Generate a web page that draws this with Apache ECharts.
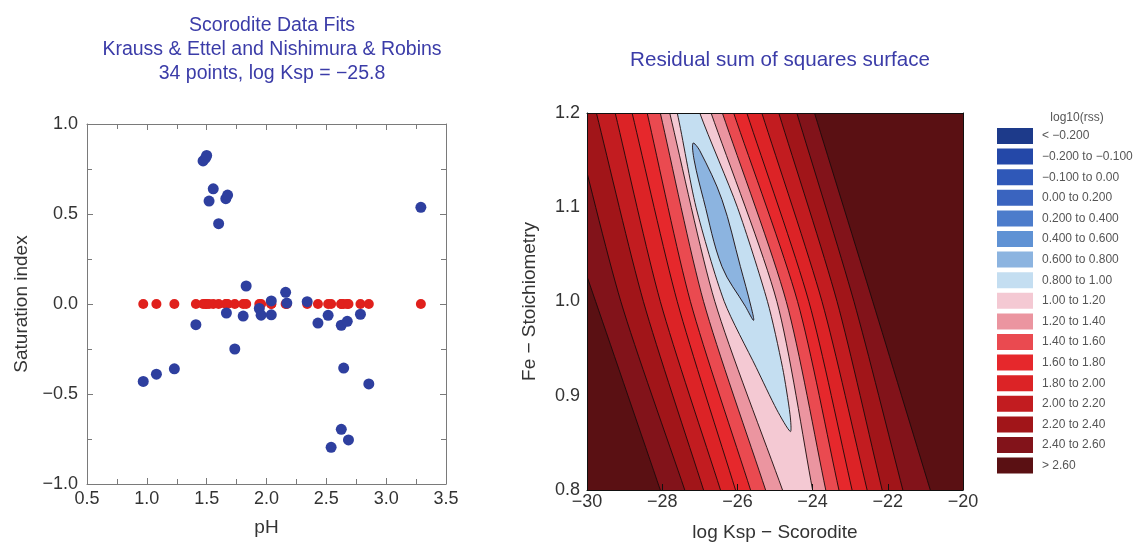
<!DOCTYPE html>
<html>
<head>
<meta charset="utf-8">
<script src="https://cdn.jsdelivr.net/npm/echarts@6/dist/echarts.min.js"></script>
<style>
  html, body { margin: 0; padding: 0; background: #ffffff; }
  #chart { width: 1146px; height: 547px; }
</style>
</head>
<body>
<div id="chart"></div>
<script>
// ---- Scorodite saturation index per sample (pH, observed SI, fitted SI) ----
const phValues = [0.97, 1.08, 1.23, 1.41, 1.47, 1.49, 1.50, 1.52, 1.555, 1.60,
                  1.66, 1.675, 1.665, 1.735, 1.805, 1.83, 1.94, 1.955, 2.04, 2.04,
                  2.16, 2.17, 2.34, 2.43, 2.515, 2.625, 2.675, 2.645, 2.785, 2.855,
                  2.54, 2.625, 2.685, 3.29];
const siObserved = [-0.43, -0.39, -0.36, -0.115, 0.795, 0.81, 0.825, 0.572, 0.64, 0.446,
                    0.585, 0.605, -0.05, -0.25, -0.067, 0.10, -0.025, -0.062, 0.017, -0.06,
                    0.065, 0.005, 0.013, -0.106, -0.063, -0.118, -0.096, -0.356, -0.057, -0.444,
                    -0.796, -0.696, -0.755, 0.537];
const siFitted = [0, 0, 0, 0, 0, 0, 0, 0, 0, 0,
                  0, 0, 0, 0, 0, 0, 0, 0, 0, 0,
                  0, 0, 0, 0, 0, 0, 0, 0, 0, 0,
                  0, 0, 0, 0];

// ---- log10(rss) contours over (log Ksp, Fe stoichiometry) ----
// Each contour is traced at these Fe stoichiometry stations.
const contourStations = [1.2, 1.0, 0.8];
// Contour levels (region below each level), outermost first.
const contourLevels = [2.6, 2.4, 2.2, 2.0, 1.8, 1.6, 1.4, 1.2];
// log Ksp of the left and right branch of each contour at each station.
const contourLeftX = [
  [-31.5, -29.77, -28.05],
  [-30.4, -29.1, -27.4],
  [-29.75, -28.5, -26.9],
  [-29.25, -28.05, -26.45],
  [-28.8, -27.6, -26.05],
  [-28.4, -27.25, -25.65],
  [-28.05, -26.9, -25.25],
  [-27.8, -26.6, -24.8]
];
const contourRightX = [
  [-23.95, -22.4, -20.87],
  [-24.42, -22.9, -21.6],
  [-24.9, -23.35, -22.15],
  [-25.35, -23.75, -22.55],
  [-25.75, -24.1, -22.95],
  [-26.1, -24.4, -23.3],
  [-26.4, -24.7, -23.65],
  [-26.7, -24.95, -24.0]
];
// Closed valley contours: log10(rss) = 1.0 and 0.8
const valleyOuterLevel = 1.0;
const valleyOuter = [
  [-27.95, 1.25], [-27.6, 1.2], [-27.1, 1.1], [-26.35, 1.0], [-25.5, 0.93],
  [-24.95, 0.885], [-24.59, 0.862], [-24.6, 0.88], [-24.8, 0.93], [-25.2, 1.0],
  [-26.0, 1.1], [-27.0, 1.2], [-27.35, 1.25]
];
const valleyInnerLevel = 0.8;
const valleyInner = [
  [-27.18, 1.168], [-27.0, 1.16], [-26.41, 1.108], [-25.92, 1.037], [-25.64, 0.995],
  [-25.57, 0.98], [-25.79, 0.995], [-26.41, 1.037], [-26.9, 1.108], [-27.15, 1.15]
];

// ---- Legend classes for log10(rss) ----
const legendBreaks = [-0.2, -0.1, 0.0, 0.2, 0.4, 0.6, 0.8, 1.0, 1.2, 1.4, 1.6, 1.8, 2.0, 2.2, 2.4, 2.6];
const legendLabels = ['< \u22120.200', '\u22120.200 to \u22120.100', '\u22120.100 to 0.00', '0.00 to 0.200',
  '0.200 to 0.400', '0.400 to 0.600', '0.600 to 0.800', '0.800 to 1.00', '1.00 to 1.20',
  '1.20 to 1.40', '1.40 to 1.60', '1.60 to 1.80', '1.80 to 2.00', '2.00 to 2.20',
  '2.20 to 2.40', '2.40 to 2.60', '> 2.60'];
const legendColors = ['#1d3a8a', '#2448a8', '#2f58b8', '#3a64bf', '#4c7ccb', '#5f92d4', '#8cb4e0',
  '#c4def1', '#f4c9d3', '#eb95a0', '#ea4a50', '#e6282c', '#dc2326', '#c21c20',
  '#a11519', '#82131a', '#5a1013'];

// ---------------------------------------------------------------------------
const FONT = '"Liberation Sans", Arial, sans-serif';
const TITLE_BLUE = '#3b3ca8';
const minus = v => String(v).replace('-', '\u2212');

// band value drawn inside each contour (middle of the class just below its level)
const bandOf = level => +(level - 0.1).toFixed(2);

// polygon between the left and right branch of one contour, extended past the frame
function stripPolygon(lx, rx) {
  const ys = contourStations;
  const ext = (a, b) => a + (a - b) * 0.6;
  const pts = [];
  pts.push([ext(lx[0], lx[1]), ys[0] + 0.12]);
  lx.forEach((x, i) => pts.push([x, ys[i]]));
  pts.push([ext(lx[2], lx[1]), ys[2] - 0.12]);
  pts.push([ext(rx[2], rx[1]), ys[2] - 0.12]);
  for (let i = rx.length - 1; i >= 0; i--) pts.push([rx[i], ys[i]]);
  pts.push([ext(rx[0], rx[1]), ys[0] + 0.12]);
  return pts;
}

const contourShapes = [];
const contourData = [];
// whole surface above the highest level
contourShapes.push({ pts: [[-31, 0.7], [-19, 0.7], [-19, 1.3], [-31, 1.3]], smooth: 0 });
contourData.push({ value: [-25, 1.0, 2.7] });
contourLevels.forEach((lv, i) => {
  contourShapes.push({ pts: stripPolygon(contourLeftX[i], contourRightX[i]), smooth: 0.25 });
  contourData.push({ value: [-25, 1.0, bandOf(lv)] });
});
contourShapes.push({ pts: valleyOuter, smooth: 0.25 });
contourData.push({ value: [-25.5, 1.0, bandOf(valleyOuterLevel)] });
contourShapes.push({ pts: valleyInner, smooth: 0.35 });
contourData.push({ value: [-26.4, 1.07, bandOf(valleyInnerLevel)] });

const pieces = legendLabels.map((label, i) => {
  const p = { label: label, color: legendColors[i] };
  if (i > 0) p.gte = legendBreaks[i - 1];
  if (i < legendBreaks.length) p.lt = legendBreaks[i];
  return p;
});

const chart = echarts.init(document.getElementById('chart'), null, { renderer: 'canvas' });

const axisText = { fontFamily: FONT, fontSize: 18, color: '#333333' };
const nameText = { fontFamily: FONT, fontSize: 19, color: '#333333' };
const greyLine = { onZero: false, lineStyle: { color: '#7a7a7a', width: 1 } };
const blackLine = { onZero: false, lineStyle: { color: '#111111', width: 1 } };
const greyTick = { inside: true, length: 6, lineStyle: { color: '#7a7a7a' } };
const greyMinor = { show: true, splitNumber: 2, length: 5, lineStyle: { color: '#7a7a7a' } };

const option = {
  animation: false,
  backgroundColor: '#ffffff',
  textStyle: { fontFamily: FONT },
  title: [
    {
      text: 'Scorodite Data Fits\nKrauss & Ettel and Nishimura & Robins\n34 points, log Ksp = \u221225.8',
      left: 267, top: 9, textAlign: 'center',
      textStyle: { fontFamily: FONT, fontSize: 19.5, fontWeight: 'normal', color: TITLE_BLUE, lineHeight: 24 }
    },
    {
      text: 'Residual sum of squares surface',
      left: 775, top: 45, textAlign: 'center',
      textStyle: { fontFamily: FONT, fontSize: 20.6, fontWeight: 'normal', color: TITLE_BLUE }
    },
    {
      text: 'log10(rss)',
      left: 1072, top: 107, textAlign: 'center',
      textStyle: { fontFamily: FONT, fontSize: 12, fontWeight: 'normal', color: '#555555' }
    }
  ],
  grid: [
    { left: 87, top: 124, width: 359, height: 360, show: false },
    { left: 587, top: 113, width: 376, height: 377, show: false }
  ],
  xAxis: [
    {
      gridIndex: 0, type: 'value', min: 0.5, max: 3.5, interval: 0.5, position: 'bottom',
      name: 'pH', nameLocation: 'middle', nameGap: 34, nameTextStyle: nameText,
      axisLine: greyLine, axisTick: greyTick, minorTick: greyMinor,
      axisLabel: Object.assign({ margin: 6, formatter: v => v.toFixed(1) }, axisText),
      splitLine: { show: false }
    },
    {
      gridIndex: 0, type: 'value', min: 0.5, max: 3.5, interval: 0.5, position: 'top',
      axisLine: greyLine, axisTick: greyTick, minorTick: greyMinor,
      axisLabel: { show: false }, splitLine: { show: false }
    },
    {
      gridIndex: 1, type: 'value', min: -30, max: -20, interval: 2, position: 'bottom', z: 10,
      name: 'log Ksp \u2212 Scorodite', nameLocation: 'middle', nameGap: 33, nameTextStyle: nameText,
      axisLine: blackLine,
      axisTick: { inside: true, length: 6, lineStyle: { color: '#111111' } },
      axisLabel: Object.assign({ margin: 3, formatter: v => minus(v) }, axisText),
      splitLine: { show: false }
    },
    {
      gridIndex: 1, type: 'value', min: -30, max: -20, interval: 2, position: 'top', z: 10,
      axisLine: blackLine, axisTick: { show: false }, axisLabel: { show: false }, splitLine: { show: false }
    }
  ],
  yAxis: [
    {
      gridIndex: 0, type: 'value', min: -1, max: 1, interval: 0.5, position: 'left',
      name: 'Saturation index', nameLocation: 'middle', nameGap: 56, nameTextStyle: nameText,
      axisLine: greyLine, axisTick: greyTick, minorTick: greyMinor,
      axisLabel: Object.assign({ margin: 9, formatter: v => minus(v.toFixed(1)) }, axisText),
      splitLine: { show: false }
    },
    {
      gridIndex: 0, type: 'value', min: -1, max: 1, interval: 0.5, position: 'right',
      axisLine: greyLine, axisTick: greyTick, minorTick: greyMinor,
      axisLabel: { show: false }, splitLine: { show: false }
    },
    {
      gridIndex: 1, type: 'value', min: 0.8, max: 1.2, interval: 0.1, position: 'left', z: 10,
      name: 'Fe \u2212 Stoichiometry', nameLocation: 'middle', nameGap: 48, nameTextStyle: nameText,
      axisLine: blackLine,
      axisTick: { show: false },
      axisLabel: Object.assign({ margin: 7, formatter: v => v.toFixed(1) }, axisText),
      splitLine: { show: false }
    },
    {
      gridIndex: 1, type: 'value', min: 0.8, max: 1.2, interval: 0.1, position: 'right', z: 10,
      axisLine: blackLine, axisTick: { show: false }, axisLabel: { show: false }, splitLine: { show: false }
    }
  ],
  visualMap: {
    type: 'piecewise',
    seriesIndex: 2,
    dimension: 2,
    orient: 'vertical',
    inverse: true,
    align: 'left',
    left: 997, top: 128,
    padding: 0,
    itemWidth: 36, itemHeight: 16, itemGap: 4.6,
    itemSymbol: 'rect',
    textGap: 9,
    selectedMode: false,
    hoverLink: false,
    pieces: pieces,
    textStyle: { fontFamily: FONT, fontSize: 12, color: '#555555' }
  },
  series: [
    {
      type: 'scatter', name: 'Fitted', xAxisIndex: 0, yAxisIndex: 0,
      symbolSize: 10, itemStyle: { color: '#e0201c', opacity: 1 },
      data: phValues.map((p, i) => [p, siFitted[i]]), z: 2
    },
    {
      type: 'scatter', name: 'Observed', xAxisIndex: 0, yAxisIndex: 0,
      symbolSize: 11, itemStyle: { color: '#2e3f9f', opacity: 1 },
      data: phValues.map((p, i) => [p, siObserved[i]]), z: 3
    },
    {
      type: 'custom', name: 'log10(rss)', xAxisIndex: 2, yAxisIndex: 2,
      clip: true,
      encode: { x: 0, y: 1 },
      data: contourData,
      renderItem: function (params, api) {
        const shape = contourShapes[params.dataIndex];
        const points = shape.pts.map(pt => api.coord(pt));
        return {
          type: 'polygon',
          shape: { points: points, smooth: shape.smooth },
          style: { fill: api.visual('color'), stroke: '#1a0a0a', lineWidth: params.dataIndex === 0 ? 0 : 0.9 }
        };
      }
    }
  ]
};

chart.setOption(option);
</script>
</body>
</html>
